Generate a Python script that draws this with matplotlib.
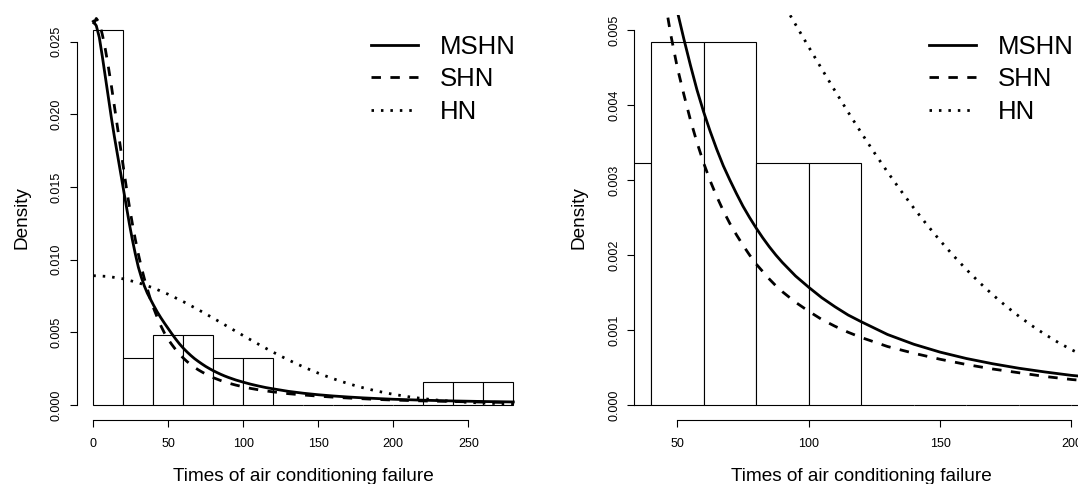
import numpy as np
import matplotlib
matplotlib.use("Agg")
import matplotlib.pyplot as plt
from matplotlib.lines import Line2D

plt.rcParams['font.family'] = ['Liberation Sans', 'DejaVu Sans']

# ---------------- data ----------------
bin_edges = [0, 20, 40, 60, 80, 100, 120, 140, 160, 180, 200, 220, 240, 260, 280]
bin_counts = [16, 2, 3, 3, 2, 2, 0, 0, 0, 0, 0, 1, 1, 1]

curve_x = [0, 2, 4, 6, 8, 10, 12, 14, 16, 18, 20, 22, 24, 26, 28, 30, 32, 34, 36, 38,
           40, 42.5, 45, 47.5, 50, 52.5, 55, 57.5, 60, 62.5, 65, 67.5, 70, 72.5, 75,
           77.5, 80, 82.5, 85, 87.5, 90, 95, 100, 105, 110, 115, 120, 130, 140, 150,
           160, 170, 180, 190, 200, 220, 240, 260, 280]
mshn = [0.0264, 0.0261, 0.0253, 0.0240, 0.0226, 0.0212, 0.0198, 0.0185, 0.0173, 0.0161,
        0.0149, 0.0137, 0.0125, 0.0114, 0.0104, 0.0095, 0.0088, 0.0082, 0.0077, 0.0073,
        0.0069, 0.00643, 0.00601, 0.00562, 0.00525, 0.00488, 0.00453, 0.00420, 0.00391,
        0.00365, 0.00341, 0.00319, 0.00300, 0.00282, 0.00265, 0.00250, 0.00236, 0.00223,
        0.00211, 0.00200, 0.00190, 0.00172, 0.00157, 0.00143, 0.00131, 0.00120, 0.00111,
        0.00094, 0.00081, 0.000705, 0.00062, 0.00055, 0.00049, 0.00044, 0.000395,
        0.00033, 0.00028, 0.00024, 0.00021]
shn = [0.0262, 0.0266, 0.0263, 0.0255, 0.0245, 0.0233, 0.0220, 0.0206, 0.0192, 0.0178,
       0.0164, 0.0150, 0.0137, 0.0125, 0.0114, 0.0104, 0.0095, 0.0087, 0.0080, 0.0073,
       0.00672, 0.00606, 0.00546, 0.00494, 0.00450, 0.00414, 0.00380, 0.00350, 0.00323,
       0.00299, 0.00278, 0.00259, 0.00242, 0.00227, 0.00213, 0.00200, 0.00188, 0.00178,
       0.00168, 0.00159, 0.00151, 0.00137, 0.00125, 0.00114, 0.00105, 0.00097, 0.00090,
       0.00078, 0.00069, 0.00061, 0.00054, 0.00048, 0.00043, 0.00038, 0.00034,
       0.00028, 0.00024, 0.00020, 0.00017]
hn_x = [0, 10, 20, 30, 40, 50, 60, 70, 80, 90, 95, 100, 105, 110, 115, 120, 125, 130,
        135, 140, 145, 150, 155, 160, 165, 170, 175, 180, 185, 190, 195, 200, 210, 220,
        230, 240, 250, 260, 270, 280]
hn = [0.0089, 0.008845, 0.008681, 0.008415, 0.008056, 0.007617, 0.007112, 0.006559,
      0.005975, 0.005374, 0.005073, 0.004774, 0.004479, 0.004189, 0.003905, 0.003630,
      0.003363, 0.003106, 0.002861, 0.002626, 0.002403, 0.002192, 0.001994, 0.001807,
      0.001633, 0.001471, 0.001321, 0.001183, 0.001056, 0.000940, 0.000833, 0.000737,
      0.000571, 0.000437, 0.000330, 0.000246, 0.000182, 0.000132, 0.000095, 0.0000674]

legend_labels = ["MSHN", "SHN", "HN"]
x_label = "Times of air conditioning failure"
y_label = "Density"

left_xticks = [0, 50, 100, 150, 200, 250]
left_yticks = [0.000, 0.005, 0.010, 0.015, 0.020, 0.025]
right_xticks = [50, 100, 150, 200]
right_yticks = [0.000, 0.001, 0.002, 0.003, 0.004, 0.005]
right_xrange = (40, 200)
right_yrange = (0, 0.005)

# ---------------- figure ----------------
W, H = 1078, 484
fig = plt.figure(figsize=(W / 100, H / 100), dpi=100)
ax1 = fig.add_axes([76.5 / W, 64 / H, 453.6 / W, 405 / H])
ax2 = fig.add_axes([634.2 / W, 64 / H, 454.1 / W, 405 / H])

LW = 2.0
dash_style = (0, (3.4, 3.4))
dot_style = (0, (0.9, 2.5))


def r_lim(lo, hi):
    d = 0.04 * (hi - lo)
    return lo - d, hi + d


def draw(ax, xticks, yticks, xrange_, yrange_):
    ax.hist(bin_edges[:-1], bins=bin_edges, weights=bin_counts, density=True,
            facecolor='white', edgecolor='black', linewidth=0.8, zorder=1)
    ax.plot(curve_x, mshn, color='black', lw=LW, zorder=3)
    ax.plot(curve_x, shn, color='black', lw=LW, ls=dash_style, zorder=3)
    ax.plot(hn_x, hn, color='black', lw=LW, ls=dot_style, zorder=3)
    ax.set_xlim(*r_lim(*xrange_))
    ax.set_ylim(*r_lim(*yrange_))
    for s in ('top', 'right'):
        ax.spines[s].set_visible(False)
    ax.spines['bottom'].set_bounds(xticks[0], xticks[-1])
    ax.spines['left'].set_bounds(yticks[0], yticks[-1])
    for s in ('bottom', 'left'):
        ax.spines[s].set_linewidth(0.8)
    ax.set_xticks(xticks)
    ax.set_xticklabels([str(v) for v in xticks])
    ax.set_yticks(yticks)
    ax.set_yticklabels(["%.3f" % v for v in yticks])
    ax.tick_params(axis='both', direction='out', length=5.3, width=0.8,
                   labelsize=9.0, colors='black')
    ax.tick_params(axis='x', pad=7.5)
    ax.tick_params(axis='y', pad=4.5, labelrotation=90)
    for lab in ax.get_yticklabels():
        lab.set_va('center')
    ax.set_xlabel(x_label, fontsize=13.7)
    ax.xaxis.label.set_va('baseline')
    ax.xaxis.set_label_coords(0.5, -0.1506)
    ax.set_ylabel(y_label, fontsize=13.7)
    ax.yaxis.label.set_va('baseline')
    ax.yaxis.set_label_coords(-0.111, 0.5)
    handles = [Line2D([], [], color='black', lw=LW),
               Line2D([], [], color='black', lw=LW, ls=dash_style),
               Line2D([], [], color='black', lw=LW, ls=dot_style)]
    ax.legend(handles, legend_labels, loc='upper left', bbox_to_anchor=(0.649, 0.9516),
              frameon=False, borderpad=0, borderaxespad=0, handlelength=1.85,
              handletextpad=0.84, labelspacing=0.33, fontsize=18.5)


left_yrange = (0, max(bin_counts) / (sum(bin_counts) * 20))
draw(ax1, left_xticks, left_yticks, (bin_edges[0], bin_edges[-1]), left_yrange)
draw(ax2, right_xticks, right_yticks, right_xrange, right_yrange)

fig.savefig("out.png", dpi=100)
